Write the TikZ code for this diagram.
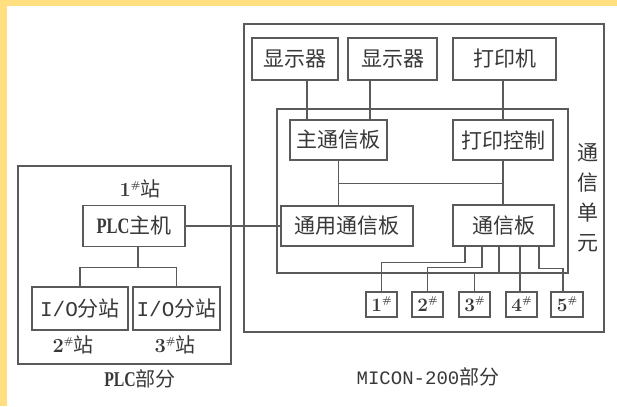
\documentclass[tikz,border=0pt]{standalone}
\usepackage{fontspec}
\newfontfamily\cjk{Noto Sans CJK SC}
\newfontfamily\mono{Liberation Mono}
\newfontfamily\serifn[FakeStretch=0.75]{Liberation Serif}
\usetikzlibrary{calc}
\definecolor{bordery}{HTML}{FFDF80}
\definecolor{ln}{HTML}{5A5A5A}
\definecolor{tx}{HTML}{383838}
\newcommand\hashsup{\raisebox{0.42em}{\fontsize{10}{10}\selectfont\#}}
\begin{document}
\begin{tikzpicture}[x=1pt,y=-1pt,
  box/.style={draw=ln, line width=1.3pt, inner sep=0pt, text=tx,
    font=\fontsize{21}{21}\selectfont\cjk},
  frame/.style={draw=ln, line width=1.3pt, inner sep=0pt},
  wire/.style={draw=ln, line width=1.3pt},
  lbl/.style={inner sep=0pt, text=tx, font=\fontsize{20}{20}\selectfont\cjk},
  numbox/.style={draw=ln, line width=1.3pt, inner sep=0pt, text=tx,
    minimum width=31pt, minimum height=25pt, font=\fontsize{19}{19}\selectfont\rmfamily\bfseries}]
\useasboundingbox (0,0) rectangle (617,406);
\fill[white] (0,0) rectangle (617,406);
\fill[bordery] (0,0) rectangle (617,6);
\fill[bordery] (0,0) rectangle (7,406);

% frames
\node[frame, minimum width=360pt, minimum height=308pt] (micon) at (424,178) {};
\node[frame, minimum width=213pt, minimum height=198pt] (plc) at (124.5,265) {};
\node[frame, minimum width=291pt, minimum height=164pt] (unit) at (422.5,191) {};

% MICON boxes
\node[box, minimum width=86pt, minimum height=42pt] (disp1) at (295,59) {显示器};
\node[box, minimum width=89pt, minimum height=42pt] (disp2) at (392.5,59) {显示器};
\node[box, minimum width=103pt, minimum height=42pt] (printer) at (504.5,59) {打印机};
\node[box, minimum width=97pt, minimum height=40pt] (mainb) at (338.5,140) {主通信板};
\node[box, minimum width=100pt, minimum height=40pt] (printc) at (503,140) {打印控制};
\node[box, minimum width=132pt, minimum height=40pt] (general) at (347,226) {通用通信板};
\node[box, minimum width=101pt, minimum height=41pt] (comm) at (503.5,225.5) {通信板};

\node[numbox] (b1) at (381.5,304.5) {1\hashsup};
\node[numbox] (b2) at (427.5,304.5) {2\hashsup};
\node[numbox] (b3) at (474.5,304.5) {3\hashsup};
\node[numbox] (b4) at (521.5,304.5) {4\hashsup};
\node[numbox, minimum width=32pt] (b5) at (567,304.5) {5\hashsup};

\node[lbl, align=center, font=\fontsize{21}{30}\selectfont\cjk] (unitlbl) at (588,198) {通\\信\\单\\元};

% PLC boxes
\node[box, minimum width=102pt, minimum height=41pt] (plcm) at (134,226) {{\fontsize{22}{22}\selectfont\serifn\bfseries PLC}主机};
\node[box, minimum width=96pt, minimum height=43pt] (io1) at (80,308.5) {{\mono I/O}分站};
\node[box, minimum width=87pt, minimum height=43pt] (io2) at (176.5,308.5) {{\mono I/O}分站};

% labels
\node[lbl] (s1) at (140,189) {{\rmfamily\bfseries\fontsize{20}{20}\selectfont 1\hashsup}站};
\node[lbl] (s2) at (73,345) {{\rmfamily\bfseries\fontsize{20}{20}\selectfont 2\hashsup}站};
\node[lbl] (s3) at (175,345) {{\rmfamily\bfseries\fontsize{20}{20}\selectfont 3\hashsup}站};
\node[lbl] (plclbl) at (140,379) {{\fontsize{21}{21}\selectfont\serifn\bfseries PLC}部分};
\node[lbl] (miconlbl) at (428,377) {{\fontsize{19}{19}\selectfont\mono MICON-200}部分};

% wires top
\draw[wire] ($(disp1.south)+(12,0)$) coordinate (d1) -- (d1 |- mainb.north);
\draw[wire] ($(disp2.south)+(-22.5,0)$) coordinate (d2) -- (d2 |- mainb.north);
\draw[wire] (printc.north) -- (printc.north |- printer.south);
\draw[wire] (mainb.south) -- (mainb.south |- general.north);
\draw[wire] (printc.south) -- (printc.south |- comm.north);
\draw[wire] ($(mainb.south)+(0,23)$) coordinate (bl) -- (bl -| printc.south);
\draw[wire] (plcm.east) -- (plcm.east -| general.west);

% comm outputs
\draw[wire] ($(comm.south)+(-38.5,0)$) -- ++(0,16) -| (b1.north);
\draw[wire] ($(comm.south)+(-21.5,0)$) -- ++(0,21) -| (b2.north);
\draw[wire] ($(comm.south)+(-4.5,0)$) coordinate (c3) -- (c3 |- unit.south);
\draw[wire] (b3.north) -- (b3.north |- unit.south);
\draw[wire] ($(comm.south)+(16.5,0)$) coordinate (c4) -- (c4 |- b4.north);
\draw[wire] ($(comm.south)+(35.5,0)$) -- ++(0,22) -| ($(b5.north)+(-4,0)$);

% PLC wires
\draw[wire] ($(plcm.south)+(4,0)$) -- ++(0,20) coordinate (p1);
\draw[wire] (io1.north) |- (p1) -| (io2.north);
\end{tikzpicture}
\end{document}
